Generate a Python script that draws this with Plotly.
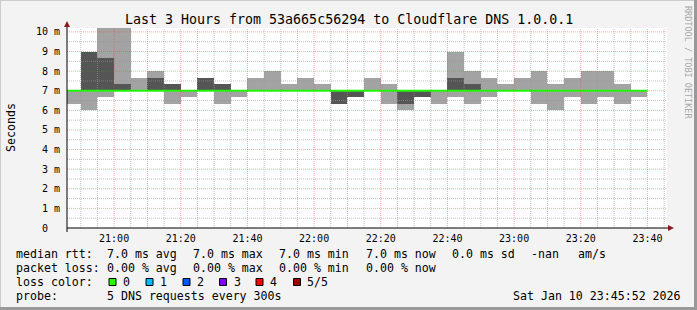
import plotly.graph_objects as go
from datetime import datetime, timedelta

# ---------------- data ----------------
day = "2026-01-10"
step_start = ["20:45", "20:50", "20:55", "21:00", "21:05", "21:10", "21:15", "21:20",
              "21:25", "21:30", "21:35", "21:40", "21:45", "21:50", "21:55", "22:00",
              "22:05", "22:10", "22:15", "22:20", "22:25", "22:30", "22:35", "22:40",
              "22:45", "22:50", "22:55", "23:00", "23:05", "23:10", "23:15", "23:20",
              "23:25", "23:30", "23:35"]
data_end = "23:40"
# sorted ping values (ms): min, 2nd, 4th, max ; median = 3rd
p_min = [6.33, 6.00, 6.67, 7.00, 7.00, 7.00, 6.33, 6.67, 7.00, 6.33, 6.67, 7.00,
         7.00, 7.00, 7.00, 7.00, 6.33, 6.67, 7.00, 6.33, 6.00, 6.67, 6.33, 6.67,
         6.33, 6.67, 7.00, 7.00, 6.33, 6.00, 6.67, 6.33, 6.67, 6.33, 6.67]
p_lo = [7.00, 7.00, 7.00, 7.00, 7.00, 7.00, 7.00, 7.00, 7.00, 7.00, 7.00, 7.00,
        7.00, 7.00, 7.00, 7.00, 6.33, 6.67, 7.00, 7.00, 6.33, 6.67, 7.00, 7.00,
        7.00, 7.00, 7.00, 7.00, 7.00, 7.00, 7.00, 7.00, 7.00, 7.00, 7.00]
p_hi = [7.00, 9.00, 8.67, 7.33, 7.00, 7.67, 7.33, 7.00, 7.67, 7.33, 7.00, 7.00,
        7.00, 7.00, 7.00, 7.00, 7.00, 7.00, 7.00, 7.00, 7.00, 7.00, 7.00, 7.67,
        7.33, 7.00, 7.00, 7.00, 7.00, 7.00, 7.00, 7.00, 7.00, 7.00, 7.00]
p_max = [7.00, 9.00, 10.67, 10.67, 7.67, 8.00, 7.33, 7.00, 7.67, 7.33, 7.00, 7.67,
         8.00, 7.33, 7.67, 7.33, 7.00, 7.00, 7.67, 7.33, 7.00, 7.00, 7.00, 9.00,
         8.00, 7.67, 7.33, 7.67, 8.00, 7.33, 7.67, 8.00, 8.00, 7.33, 7.00]
median = [7.00, 7.00, 7.00, 7.00, 7.00, 7.00, 7.00, 7.00, 7.00, 7.00, 7.00, 7.00,
          7.00, 7.00, 7.00, 7.00, 7.00, 7.00, 7.00, 7.00, 7.00, 7.00, 7.00, 7.00,
          7.00, 7.00, 7.00, 7.00, 7.00, 7.00, 7.00, 7.00, 7.00, 7.00, 7.00]

y_major = [0, 1, 2, 3, 4, 5, 6, 7, 8, 9, 10]
y_ticktext = ["0\u00a0\u00a0", "1 m", "2 m", "3 m", "4 m", "5 m", "6 m", "7 m", "8 m", "9 m", "10 m"]
y_minor = [0.5, 1.5, 2.5, 3.5, 4.5, 5.5, 6.5, 7.5, 8.5, 9.5]
x_major = ["21:00", "21:20", "21:40", "22:00", "22:20", "22:40", "23:00", "23:20", "23:40"]
x_minor = ["20:50", "20:55", "21:05", "21:10", "21:15", "21:25", "21:30", "21:35",
           "21:45", "21:50", "21:55", "22:05", "22:10", "22:15", "22:25", "22:30",
           "22:35", "22:45", "22:50", "22:55", "23:05", "23:10", "23:15", "23:25",
           "23:30", "23:35", "23:45"]
x_range = ["20:45:52", "23:45:52"]
y_range = [0, 10.2]

title = "Last 3 Hours from 53a665c56294 to Cloudflare DNS 1.0.0.1"
legend_rows = [
    [("median rtt:", 16), ("7.0 ms avg", 107), ("7.0 ms max", 193), ("7.0 ms min", 279),
     ("7.0 ms now", 366), ("0.0 ms sd", 452), ("-nan", 531), ("am/s", 578)],
    [("packet loss:", 16), ("0.00 % avg", 107), ("0.00 % max", 193), ("0.00 % min", 279),
     ("0.00 % now", 366)],
    [("loss color:", 16)],
    [("probe:", 16), ("5 DNS requests every 300s", 107), ("Sat Jan 10 23:45:52 2026", 513)],
]
loss_labels = ["0", "1", "2", "3", "4", "5/5"]
loss_colors = ["#26ff00", "#00b8ff", "#0059ff", "#7e00ff", "#ff0000", "#a00000"]

# ---------------- layout helpers ----------------
W, H = 697, 310
PL, PR, PT, PB = 67, 667, 28, 228
MONO = "DejaVu Sans Mono"


def px(x):
    return (x - PL) / (PR - PL)


def py(y):
    return (PB - y) / (PB - PT)


def ts(hm):
    return f"{day} {hm}"


starts = [ts(s) for s in step_start]
STEP_MS = 300000

fig = go.Figure()
fig.add_trace(go.Bar(
    x=starts, base=p_min, y=[b - a for a, b in zip(p_min, p_max)],
    width=STEP_MS, offset=0, marker=dict(color="#a3a3a3", line=dict(width=0)),
    hoverinfo="skip", showlegend=False))
fig.add_trace(go.Bar(
    x=starts, base=p_lo, y=[b - a for a, b in zip(p_lo, p_hi)],
    width=STEP_MS, offset=0, marker=dict(color="#555555", line=dict(width=0)),
    hoverinfo="skip", showlegend=False))
fig.add_trace(go.Scatter(
    x=starts + [ts(data_end)], y=median + [median[-1]], mode="lines",
    line=dict(color="#26ff00", width=2, shape="hv"),
    hoverinfo="skip", showlegend=False))

shapes = []
GRID_MIN = "rgba(150,150,150,0.6)"
GRID_MAJ = "rgba(255,60,60,0.45)"
DASH = "1px,1px"
for v in y_minor:
    shapes.append(dict(type="line", xref="paper", yref="y", x0=0, x1=1, y0=v, y1=v,
                       line=dict(color=GRID_MIN, width=1, dash=DASH), layer="above"))
for v in y_major[1:]:
    shapes.append(dict(type="line", xref="paper", yref="y", x0=0, x1=1, y0=v, y1=v,
                       line=dict(color=GRID_MAJ, width=1, dash=DASH), layer="above"))
for t in x_minor:
    shapes.append(dict(type="line", xref="x", yref="paper", x0=ts(t), x1=ts(t), y0=0, y1=1,
                       line=dict(color=GRID_MIN, width=1, dash=DASH), layer="above"))
for t in x_major:
    shapes.append(dict(type="line", xref="x", yref="paper", x0=ts(t), x1=ts(t), y0=0, y1=1,
                       line=dict(color=GRID_MAJ, width=1, dash=DASH), layer="above"))

# axes lines and arrows
shapes.append(dict(type="line", xref="paper", yref="paper", x0=px(67), x1=px(669),
                   y0=py(228), y1=py(228), line=dict(color="black", width=1), layer="above"))
shapes.append(dict(type="line", xref="paper", yref="paper", x0=px(67), x1=px(67),
                   y0=py(232), y1=py(24), line=dict(color="black", width=1), layer="above"))
shapes.append(dict(type="path", xref="paper", yref="paper",
                   path=f"M {px(668)} {py(225)} L {px(674)} {py(228)} L {px(668)} {py(231)} Z",
                   fillcolor="#8c1c1c", line=dict(width=0), layer="above"))
shapes.append(dict(type="path", xref="paper", yref="paper",
                   path=f"M {px(64)} {py(27)} L {px(67)} {py(21)} L {px(70)} {py(27)} Z",
                   fillcolor="#8c1c1c", line=dict(width=0), layer="above"))

# legend color boxes
box_x = [109, 146, 183, 219.5, 256, 293.5]
for bx, c in zip(box_x, loss_colors):
    shapes.append(dict(type="rect", xref="paper", yref="paper",
                       x0=px(bx), x1=px(bx + 7), y0=py(278.5), y1=py(285.5),
                       fillcolor=c, line=dict(color="black", width=1), layer="above"))

# frame
shapes.append(dict(type="line", xref="paper", yref="paper", x0=px(0), x1=px(697),
                   y0=py(0.5), y1=py(0.5), line=dict(color="#cbcbcb", width=1)))
shapes.append(dict(type="line", xref="paper", yref="paper", x0=px(0.5), x1=px(0.5),
                   y0=py(0), y1=py(310), line=dict(color="#cbcbcb", width=1)))
shapes.append(dict(type="line", xref="paper", yref="paper", x0=px(0), x1=px(697),
                   y0=py(308.5), y1=py(308.5), line=dict(color="#999999", width=3)))
shapes.append(dict(type="line", xref="paper", yref="paper", x0=px(695.5), x1=px(695.5),
                   y0=py(0), y1=py(310), line=dict(color="#999999", width=3)))

annotations = []


def txt(s, x, y, size=11.6, anchor="left", color="black", angle=0):
    annotations.append(dict(text=s, xref="paper", yref="paper", x=px(x), y=py(y),
                            xanchor=anchor, yanchor="middle", showarrow=False,
                            textangle=angle, borderpad=0, borderwidth=0,
                            font=dict(family=MONO, size=size, color=color)))


txt(title, 348.5, 19, size=13.3, anchor="center")
row_y = [254, 268, 281.5, 295.5]
for ry, row in zip(row_y, legend_rows):
    for s, x in row:
        txt(s, x - 0.5, ry)
label_x = [123, 160.5, 197, 234, 270.5, 307]
for s, x in zip(loss_labels, label_x):
    txt(s, x - 0.5, row_y[2])
txt("Seconds", 11, 128, size=11.6, anchor="center", angle=-90)
txt("RRDTOOL / TOBI OETIKER", 688, 62, size=8.5, anchor="center", color="#a8a8a8", angle=90)

fig.update_layout(
    width=W, height=H, autosize=False,
    margin=dict(l=PL, r=W - PR, t=PT, b=H - PB, pad=0),
    paper_bgcolor="#f3f3f3", plot_bgcolor="white",
    barmode="overlay", bargap=0,
    showlegend=False,
    shapes=shapes, annotations=annotations,
    xaxis=dict(type="date", range=[ts(x_range[0]), ts(x_range[1])],
               tickvals=[ts(t) for t in x_major], ticktext=x_major,
               showgrid=False, zeroline=False, showline=False, ticks="",
               tickfont=dict(family=MONO, size=10, color="black"),
               ticklabelstandoff=3, fixedrange=True),
    yaxis=dict(range=y_range, tickvals=y_major, ticktext=y_ticktext,
               showgrid=False, zeroline=False, showline=False, ticks="",
               tickfont=dict(family=MONO, size=10, color="black"),
               ticklabelstandoff=6, fixedrange=True),
)

fig.write_html("out.html", config={"displayModeBar": False})
